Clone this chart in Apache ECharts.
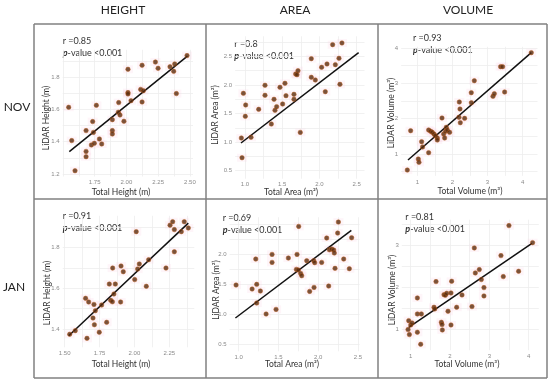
<!DOCTYPE html>
<html><head><meta charset="utf-8">
<script src="https://cdn.jsdelivr.net/npm/echarts@6/dist/echarts.min.js"></script>
<style>html,body{margin:0;padding:0;background:#fff}#c{width:550px;height:382px}</style>
</head><body><div id="c"></div>
<script>
// ---------------- DATA ----------------
const columnTitles = ['HEIGHT', 'AREA', 'VOLUME'];
const rowTitles = ['NOV', 'JAN'];
const rValues = ['0.85', '0.8', '0.93', '0.91', '0.69', '0.81'];
const pValueText = '<0.001';
const xTitles = ['Total Height (m)', 'Total Area (m\u00b2)', 'Total Volume (m\u00b3)'];
const yTitles = ['LiDAR Height (m)', 'LiDAR Area (m\u00b2)', 'LiDAR Volume (m\u00b3)'];

const novHeightPts = [[1.545,1.614],[1.569,1.407],[1.595,1.22],[1.682,1.469],[1.682,1.34],[1.682,1.307],[1.734,1.525],[1.724,1.38],[1.747,1.39],[1.763,1.626],[1.787,1.417],[1.805,1.386],[1.74,1.458],[1.889,1.537],[1.889,1.469],[1.889,1.448],[1.939,1.643],[1.936,1.583],[1.949,1.566],[1.98,1.527],[2.012,1.85],[2.012,1.705],[2.012,1.697],[2.036,1.655],[2.123,1.875],[2.112,1.725],[2.133,1.717],[2.123,1.647],[2.228,1.895],[2.249,1.856],[2.343,1.866],[2.372,1.837],[2.38,1.883],[2.393,1.699],[2.477,1.935]];
const novHeightFit = [[1.55,1.338],[2.48,1.932]];

const novAreaPts = [[0.951,1.071],[0.96,0.727],[0.978,1.853],[1.009,1.649],[1.004,1.45],[1.081,1.083],[1.184,1.573],[1.269,1.993],[1.269,1.818],[1.354,1.316],[1.39,1.748],[1.403,1.555],[1.425,1.62],[1.47,1.958],[1.506,1.666],[1.537,2.028],[1.551,1.812],[1.658,1.835],[1.658,1.748],[1.681,2.19],[1.699,2.179],[1.712,2.249],[1.743,1.17],[1.891,2.459],[1.891,2.133],[1.945,2.086],[2.03,2.308],[2.079,1.882],[2.102,2.366],[2.178,2.704],[2.214,2.354],[2.263,2.465],[2.276,2.01],[2.303,2.733]];
const novAreaFit = [[0.946,0.984],[2.527,2.564]];

const novVolumePts = [[0.715,0.547],[0.81,1.66],[1.028,0.858],[1.047,0.764],[1.123,1.349],[1.15,1.2],[1.323,1.038],[1.323,1.679],[1.38,1.642],[1.427,1.613],[1.475,1.566],[1.513,1.519],[1.57,1.453],[1.57,1.396],[1.703,2.019],[1.75,1.566],[1.779,1.453],[1.807,1.642],[1.826,1.755],[1.855,1.679],[1.921,1.613],[2.197,2.472],[2.216,2.274],[2.187,2.038],[2.225,1.887],[2.349,2.009],[2.54,2.45],[2.538,2.736],[2.624,3.075],[3.156,2.632],[3.194,2.708],[3.374,3.472],[3.431,3.472],[3.488,2.755],[4.248,3.868]];
const novVolumeFit = [[0.734,0.83],[4.248,3.868]];

const janHeightPts = [[1.536,1.374],[1.576,1.392],[1.65,1.551],[1.672,1.533],[1.66,1.354],[1.703,1.454],[1.713,1.421],[1.71,1.521],[1.72,1.49],[1.748,1.384],[1.765,1.518],[1.801,1.433],[1.82,1.621],[1.83,1.541],[1.842,1.534],[1.844,1.7],[1.853,1.572],[1.863,1.621],[1.901,1.533],[1.904,1.71],[1.92,1.682],[2.002,1.643],[2.013,1.879],[2.023,1.695],[2.035,1.72],[2.085,1.61],[2.102,1.741],[2.226,1.7],[2.255,1.911],[2.274,1.928],[2.286,1.889],[2.286,1.78],[2.336,1.879],[2.357,1.928],[2.386,1.897]];
const janHeightFit = [[1.529,1.367],[2.386,1.921]];

const janAreaPts = [[0.966,1.487],[1.168,1.421],[1.214,1.917],[1.226,1.498],[1.226,1.189],[1.272,1.388],[1.344,1.007],[1.419,1.994],[1.419,1.862],[1.469,1.084],[1.624,1.934],[1.733,1.994],[1.754,2.458],[1.725,1.746],[1.75,1.735],[1.779,1.68],[1.792,1.641],[1.855,1.89],[1.892,1.382],[1.943,1.89],[1.955,1.857],[1.947,1.448],[2.043,1.862],[2.106,2.265],[2.131,1.47],[2.14,2.072],[2.169,2.083],[2.194,2.066],[2.202,2.017],[2.211,1.763],[2.244,2.347],[2.253,2.53],[2.32,1.917],[2.391,1.757],[2.42,2.27]];
const janAreaFit = [[0.958,0.941],[2.416,2.392]];

const janVolumePts = [[0.932,0.992],[0.949,1.206],[0.966,0.873],[1.0,1.103],[1.034,1.151],[1.169,1.746],[1.169,1.365],[1.169,0.929],[1.271,1.365],[1.254,0.643],[1.593,1.524],[1.61,1.484],[1.644,2.135],[1.78,1.167],[1.797,1.111],[1.805,0.984],[1.847,1.825],[1.881,1.81],[1.915,1.857],[1.949,1.429],[2.025,1.865],[2.042,2.143],[2.025,1.103],[2.169,1.524],[2.305,1.817],[2.559,1.54],[2.619,2.937],[2.644,2.341],[2.746,2.421],[2.797,2.183],[2.864,1.992],[2.864,1.794],[3.297,2.754],[3.356,2.254],[3.5,3.468],[3.746,2.381],[4.102,3.063]];
const janVolumeFit = [[0.949,1.048],[4.085,3.048]];

// tick labels
const novHeightXTicks = [1.75, 2.00, 2.25, 2.50];
const novHeightYTicks = [1.2, 1.4, 1.6, 1.8];
const novAreaXTicks = [1.0, 1.5, 2.0, 2.5];
const novAreaYTicks = [0.5, 1.0, 1.5, 2.0, 2.5];
const novVolumeXTicks = [1, 2, 3, 4];
const novVolumeYTicks = [1, 2, 3, 4];
const janHeightXTicks = [1.50, 1.75, 2.00, 2.25];
const janHeightYTicks = [1.4, 1.6, 1.8];
const janAreaXTicks = [1.0, 1.5, 2.0, 2.5];
const janAreaYTicks = [0.5, 1.0, 1.5, 2.0];
const janVolumeXTicks = [1, 2, 3, 4];
const janVolumeYTicks = [1, 2, 3];

// ---------------- LAYOUT ----------------
const panels = [
  {pts: novHeightPts, fit: novHeightFit, xt: novHeightXTicks, yt: novHeightYTicks, xd: 2, yd: 1, xr: [1.498, 2.524], yr: [1.184, 1.971], g: [62.7, 49.8, 130.3, 126.7], stat: [62.7, 41], xt_pos: [121, 192], yt_pos: [46, 118], kind: 0},
  {pts: novAreaPts, fit: novAreaFit, xt: novAreaXTicks, yt: novAreaYTicks, xd: 1, yd: 1, xr: [0.867, 2.606], yr: [0.36, 2.85], g: [235.1, 36.3, 129.4, 142.4], stat: [234.3, 44], xt_pos: [291, 192], yt_pos: [215, 115], kind: 1},
  {pts: novVolumePts, fit: novVolumeFit, xt: novVolumeXTicks, yt: novVolumeYTicks, xd: 0, yd: 0, xr: [0.538, 4.425], yr: [0.381, 4.034], g: [401.1, 46.8, 136.4, 129.1], stat: [413, 38], xt_pos: [470, 191], yt_pos: [391, 113], kind: 2},
  {pts: janHeightPts, fit: janHeightFit, xt: janHeightXTicks, yt: janHeightYTicks, xd: 2, yd: 1, xr: [1.486, 2.429], yr: [1.31, 1.957], g: [62.7, 215.8, 131.6, 131.5], stat: [62.7, 216], xt_pos: [121, 364], yt_pos: [47, 293], kind: 0},
  {pts: janAreaPts, fit: janAreaFit, xt: janAreaXTicks, yt: janAreaYTicks, xd: 1, yd: 1, xr: [0.885, 2.52], yr: [0.39, 2.61], g: [229.6, 217.2, 130, 134.1], stat: [222.7, 218], xt_pos: [292, 364], yt_pos: [216, 290], kind: 1},
  {pts: janVolumePts, fit: janVolumeFit, xt: janVolumeXTicks, yt: janVolumeYTicks, xd: 0, yd: 0, xr: [0.773, 4.26], yr: [0.502, 3.609], g: [401.8, 219.7, 137, 130.5], stat: [405.3, 217], xt_pos: [467, 364], yt_pos: [392, 290], kind: 2}
];

function gridValues(ticks, range) {
  const step = (ticks[1] - ticks[0]) / 2;
  const out = [];
  for (let k = Math.ceil(range[0] / step - 1e-9); k * step <= range[1] + 1e-9; k++) out.push(+(k * step).toFixed(4));
  return out;
}

const grids = [], xAxes = [], yAxes = [], series = [], graphics = [];
const tickFont = {fontSize: 6, color: '#8a8a8a', fontFamily: 'Liberation Sans'};
const textFont = 'Lato';

panels.forEach((p, i) => {
  grids.push({left: p.g[0], top: p.g[1], width: p.g[2], height: p.g[3], containLabel: false});
  xAxes.push({
    type: 'value', gridIndex: i, min: p.xr[0], max: p.xr[1],
    axisLine: {show: false},
    axisTick: {show: false, customValues: gridValues(p.xt, p.xr)},
    axisLabel: Object.assign({customValues: p.xt, margin: 3, formatter: v => (+v).toFixed(p.xd)}, tickFont),
    splitLine: {show: true, lineStyle: {color: '#ededed', width: 0.8}}
  });
  yAxes.push({
    type: 'value', gridIndex: i, min: p.yr[0], max: p.yr[1],
    axisLine: {show: false},
    axisTick: {show: false, customValues: gridValues(p.yt, p.yr)},
    axisLabel: Object.assign({customValues: p.yt, margin: 3, formatter: v => (+v).toFixed(p.yd)}, tickFont),
    splitLine: {show: true, lineStyle: {color: '#ededed', width: 0.8}}
  });
  series.push({
    type: 'scatter', xAxisIndex: i, yAxisIndex: i, data: p.pts, silent: true,
    symbol: 'rect', symbolSize: [10, 8], itemStyle: {color: 'rgba(250,215,232,0.3)'}, z: 1
  });
  series.push({
    type: 'line', xAxisIndex: i, yAxisIndex: i, data: p.fit, symbol: 'none', silent: true,
    lineStyle: {color: '#111', width: 1.5}, z: 3
  });
  series.push({
    type: 'scatter', xAxisIndex: i, yAxisIndex: i, data: p.pts, silent: true,
    symbolSize: 4.5, itemStyle: {color: '#572a0c', borderColor: '#b85a1c', borderWidth: 0.6}, z: 4
  });
  // overlay texts
  graphics.push({type: 'text', x: p.stat[0], y: p.stat[1], style: {
    text: 'r =' + rValues[i], fill: '#333', fontSize: 9, fontFamily: textFont, verticalAlign: 'middle', align: 'left'}});
  graphics.push({type: 'text', x: p.stat[0], y: p.stat[1] + 12, style: {
    text: '{b|p}-value ' + pValueText, fill: '#333', fontSize: 9, fontFamily: textFont, verticalAlign: 'middle', align: 'left',
    rich: {b: {fontWeight: 'bold', fontStyle: 'italic', fontSize: 9, fontFamily: textFont, fill: '#333'}}}});
  graphics.push({type: 'text', x: p.xt_pos[0], y: p.xt_pos[1], style: {
    text: xTitles[p.kind], fill: '#333', fontSize: 8.5, fontFamily: textFont, align: 'center', verticalAlign: 'middle'}});
  graphics.push({type: 'text', x: p.yt_pos[0], y: p.yt_pos[1], rotation: Math.PI / 2, style: {
    text: yTitles[p.kind], fill: '#333', fontSize: 8.5, fontFamily: textFont, align: 'center', verticalAlign: 'middle'}});
});

// headings and table lines
const headPos = [[123, 10], [295, 10], [468, 10]];
columnTitles.forEach((t, i) => graphics.push({type: 'text', x: headPos[i][0], y: headPos[i][1], style: {
  text: t, fill: '#222', fontSize: 12, fontFamily: textFont, align: 'center', verticalAlign: 'middle'}}));
const rowPos = [[17, 107], [14, 287]];
rowTitles.forEach((t, i) => graphics.push({type: 'text', x: rowPos[i][0], y: rowPos[i][1], style: {
  text: t, fill: '#222', fontSize: 12, fontFamily: textFont, align: 'center', verticalAlign: 'middle'}}));
const border = {stroke: '#808080', lineWidth: 1.5};
[[34, 24, 547, 24], [34, 378, 547, 378], [34, 24, 34, 378], [547, 24, 547, 378], [206, 24, 206, 378], [378, 24, 378, 378], [34, 199, 547, 199]]
  .forEach(l => graphics.push({type: 'line', shape: {x1: l[0], y1: l[1], x2: l[2], y2: l[3]}, style: border, z: 10}));

const chart = echarts.init(document.getElementById('c'), null, {renderer: 'canvas'});
chart.setOption({
  animation: false,
  backgroundColor: '#fff',
  grid: grids, xAxis: xAxes, yAxis: yAxes, series: series, graphic: graphics
});
</script></body></html>
